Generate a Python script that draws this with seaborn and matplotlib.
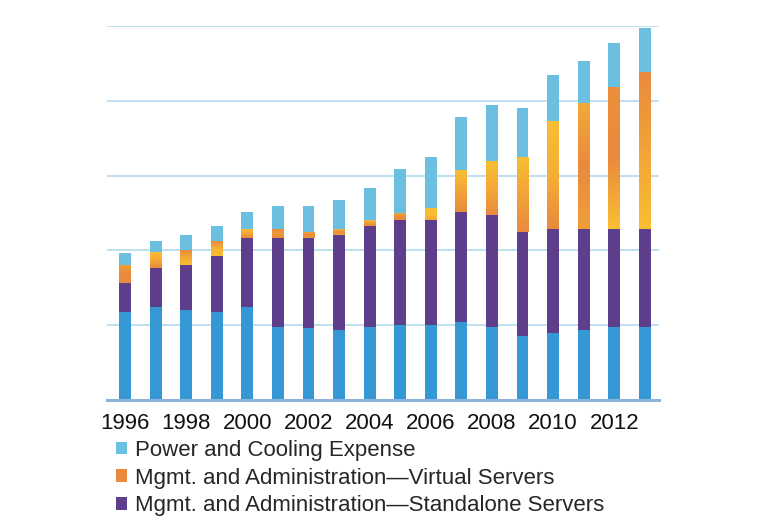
import numpy as np
import pandas as pd
import matplotlib
matplotlib.use("Agg")
import matplotlib.pyplot as plt
from matplotlib.patches import Patch
import seaborn as sns

years = list(range(1996, 2014))
server_spending = [11.7, 12.5, 12.0, 11.7, 12.5, 9.7, 9.6, 9.3, 9.7, 10.0,
                   10.0, 10.4, 9.7, 8.5, 8.9, 9.3, 9.7, 9.7]
mgmt_standalone = [4.0, 5.1, 6.0, 7.6, 9.1, 12.0, 12.0, 12.8, 13.6, 14.0,
                   14.1, 14.8, 15.1, 14.0, 14.0, 13.6, 13.1, 13.1]
mgmt_virtual = [2.4, 2.1, 2.0, 1.9, 1.2, 1.1, 0.8, 0.7, 0.7, 0.9,
                1.6, 5.5, 7.1, 10.0, 14.4, 16.8, 18.9, 20.9]
power_cooling = [1.6, 1.6, 2.0, 2.0, 2.4, 3.2, 3.6, 4.0, 4.3, 6.0,
                 6.8, 7.2, 7.6, 6.5, 6.1, 5.6, 6.0, 6.0]
tick_years = [1996, 1998, 2000, 2002, 2004, 2006, 2008, 2010, 2012]
legend_labels = ["Power and Cooling Expense",
                 "Mgmt. and Administration\u2014Virtual Servers",
                 "Mgmt. and Administration\u2014Standalone Servers"]

# gradient style of the virtual-server segments (0 = orange, 1 = yellow)
shade_top = [0.4, 1.0, 0.0, 0.0, 1.0, 0.0, 0.5, 0.8, 1.0, 0.6,
             1.0, 1.0, 1.0, 1.0, 1.0, 0.6, 0.1, 0.0]
shade_mid = [0.0, 0.6, 0.6, 0.8, 0.5, 0.3, 0.0, 0.0, 0.3, 0.0,
             1.0, 0.5, 0.6, 0.5, 0.7, 0.0, 0.0, 0.5]
shade_bot = [0.0, 0.0, 1.0, 1.0, 0.0, 0.0, 0.3, 0.5, 0.0, 0.0,
             0.6, 0.0, 0.0, 0.0, 0.0, 0.4, 1.0, 1.0]

C_BLUE = "#3597D4"
C_PURPLE = "#5D3E8A"
C_ORANGE = "#E98A3D"
C_YELLOW = "#F9BE33"
C_LIGHT = "#6BBFE0"

df = pd.DataFrame({
    "year": [str(y) for y in years],
    "s1": np.array(server_spending),
})
df["s2"] = df["s1"] + np.array(mgmt_standalone)
df["s3"] = df["s2"] + np.array(mgmt_virtual)
df["s4"] = df["s3"] + np.array(power_cooling)

sns.set_style("white")
plt.rcParams["font.family"] = ["Liberation Sans", "DejaVu Sans"]

fig = plt.figure(figsize=(7.77, 5.24), dpi=100)
ax = fig.add_axes([0.1377, 0.2366, 0.7103, 0.7138])

order = [str(y) for y in years]
W = 0.39
sns.barplot(data=df, x="year", y="s4", order=order, color=C_LIGHT, width=W,
            saturation=1, linewidth=0, ax=ax, zorder=2)
sns.barplot(data=df, x="year", y="s3", order=order, color=C_ORANGE, width=W,
            saturation=1, linewidth=0, ax=ax, zorder=3)
orange_bars = list(ax.containers[-1])
sns.barplot(data=df, x="year", y="s2", order=order, color=C_PURPLE, width=W,
            saturation=1, linewidth=0, ax=ax, zorder=5)
sns.barplot(data=df, x="year", y="s1", order=order, color=C_BLUE, width=W,
            saturation=1, linewidth=0, ax=ax, zorder=6)

# gradient fill for the virtual-server segment
o = np.array(matplotlib.colors.to_rgb(C_ORANGE))
yv = np.array(matplotlib.colors.to_rgb(C_YELLOW))
n = 120
for i, patch in enumerate(orange_bars):
    lo = df["s2"].iloc[i]
    hi = df["s3"].iloc[i]
    pos = np.linspace(0, 1, n)  # 0 = top, 1 = bottom
    t = np.interp(pos, [0, 0.5, 1], [shade_top[i], shade_mid[i], shade_bot[i]])
    img = (o[None, :] * (1 - t[:, None]) + yv[None, :] * t[:, None])[:, None, :]
    x0 = patch.get_x()
    ax.imshow(img, extent=(x0, x0 + patch.get_width(), lo, hi),
              origin="upper", aspect="auto", zorder=4, interpolation="bilinear")

ax.set_xlim(-0.59, 17.46)
ax.set_ylim(0, 50)
ax.set_yticks([10, 20, 30, 40, 50])
ax.yaxis.grid(True, color="#B7DDEF", linewidth=1.3, zorder=0)
ax.set_axisbelow(True)
ax.tick_params(axis="y", left=False, labelleft=False)
ax.set_xticks([years.index(y) for y in tick_years])
ax.set_xticklabels([str(y) for y in tick_years], fontsize=16, color="#111111")
ax.tick_params(axis="x", bottom=False, pad=5.5)
ax.set_xlabel("")
ax.set_ylabel("")
for s in ["left", "right", "top"]:
    ax.spines[s].set_visible(False)
ax.spines["bottom"].set_color("#8DB3DD")
ax.spines["bottom"].set_linewidth(2.2)
ax.spines["bottom"].set_zorder(7)

handles = [Patch(facecolor=C_LIGHT, edgecolor="none"),
           Patch(facecolor=C_ORANGE, edgecolor="none"),
           Patch(facecolor=C_PURPLE, edgecolor="none")]
fig.legend(handles, legend_labels, loc="upper left",
           bbox_to_anchor=(116 / 777, 1 - 440 / 524), frameon=False,
           fontsize=16, handlelength=0.5, handleheight=0.5,
           handletextpad=0.36, labelspacing=0.3, borderpad=0,
           borderaxespad=0)

fig.savefig("out.png", dpi=100)
